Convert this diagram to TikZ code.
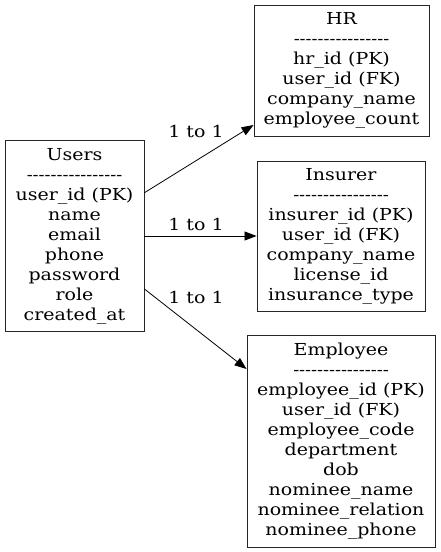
\documentclass[tikz,border=0pt]{standalone}
\usepackage{fontspec}
\setmainfont{DejaVu Serif}[FakeStretch=1.15]
\newfontfamily\plainserif{DejaVu Serif}
\usetikzlibrary{arrows.meta}
\newcommand\hy{\mbox{-}}
\newcommand\dashline{{\plainserif\scalebox{1.07}[1]{\hy\hy\hy\hy\hy\hy\hy\hy\hy\hy\hy\hy\hy\hy\hy\hy}}}
\tikzset{
  entity/.style={draw=black!85, line width=0.9pt, align=center, inner sep=0pt,
    font=\fontsize{16.5}{20}\selectfont},
  rel/.style={-{Triangle[length=12pt,width=9pt]}, line width=0.8pt, black},
  rellabel/.style={font=\fontsize{16.5}{20}\selectfont, inner sep=0pt}
}
\begin{document}
\begin{tikzpicture}[x=1pt,y=-1pt]
\useasboundingbox (0,0) rectangle (440,552);
\node[entity, minimum width=139pt, minimum height=191pt] (users) at (74.5,236)
  {Users\\\dashline\\user\_id (PK)\\name\\email\\phone\\password\\role\\created\_at};
\node[entity, minimum width=175pt, minimum height=131pt] (hr) at (341.5,70.5)
  {HR\\\dashline\\hr\_id (PK)\\user\_id (FK)\\company\_name\\employee\_count};
\node[entity, minimum width=168pt, minimum height=150pt] (ins) at (341,236)
  {Insurer\\\dashline\\insurer\_id (PK)\\user\_id (FK)\\company\_name\\license\_id\\insurance\_type};
\node[entity, minimum width=188pt, minimum height=212pt] (emp) at (341,441)
  {Employee\\\dashline\\employee\_id (PK)\\user\_id (FK)\\employee\_code\\department\\dob\\nominee\_name\\nominee\_relation\\nominee\_phone};
\draw[rel] (users.east |- 0,192.7) -- (hr.west |- 0,125);
\draw[rel] (users.east |- 0,236) -- (ins.west |- 0,236);
\draw[rel] (users.east |- 0,289) -- (emp.west |- 0,369);
\node[rellabel] (l1) at (196,131) {1 to 1};
\node[rellabel] (l2) at (196,224) {1 to 1};
\node[rellabel] (l3) at (196,297) {1 to 1};
\end{tikzpicture}
\end{document}
